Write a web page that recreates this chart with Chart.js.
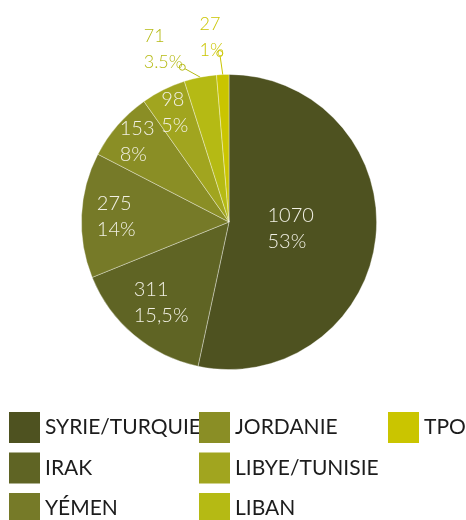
<!DOCTYPE html>
<html lang="fr">
<head>
<meta charset="utf-8">
<title>Répartition par pays</title>
<script src="https://cdn.jsdelivr.net/npm/chart.js@4.4.0/dist/chart.umd.min.js"></script>
<style>
  html, body { margin: 0; padding: 0; background: #fff; }
  #wrap { width: 466px; height: 520px; position: relative; overflow: hidden; }
</style>
</head>
<body>
<div id="wrap"><canvas id="pie" width="466" height="520"></canvas></div>
<script>
/* ---- Data ---- */
const categories = ["SYRIE/TURQUIE", "IRAK", "YÉMEN", "JORDANIE", "LIBYE/TUNISIE", "LIBAN", "TPO"];
const values = [1070, 311, 275, 153, 98, 71, 27];
const shareLabels = ["53%", "15,5%", "14%", "8%", "5%", "3.5%", "1%"];
const sliceColors = ["#4e5220", "#5f6424", "#767a28", "#8a8e25", "#a1a51f", "#b5ba14", "#cac500"];

const FONT = "'Lato', 'Open Sans', sans-serif";

/* ---- Placement of value labels (radius fraction inside, or offsets from rim outside) ---- */
const labelPlacement = [
    { r: 0.42 },
    { r: 0.715 },
    { r: 0.765 },
    { r: 0.826 },
    { r: 0.825 },
    { dot: [-18, -10], text: [-37, -28.5] },
    { dot: [-3, -21], text: [-11, -37.5] }
];

const sliceLabels = {
    id: "sliceLabels",
    afterDatasetsDraw(chart) {
        const ctx = chart.ctx;
        const meta = chart.getDatasetMeta(0);
        meta.data.forEach((arc, i) => {
            const p = arc.getProps(["x", "y", "startAngle", "endAngle", "outerRadius"], true);
            const mid = (p.startAngle + p.endAngle) / 2;
            const place = labelPlacement[i];
            const lines = [String(chart.data.datasets[0].data[i]), shareLabels[i]];
            let cx, cy, gap, color;

            ctx.save();
            if (place.r !== undefined) {
                cx = p.x + Math.cos(mid) * p.outerRadius * place.r;
                cy = p.y + Math.sin(mid) * p.outerRadius * place.r;
                gap = 26;
                color = "#f1f0e4";
                ctx.font = "300 20px " + FONT;
            } else {
                const ex = p.x + Math.cos(mid) * p.outerRadius;
                const ey = p.y + Math.sin(mid) * p.outerRadius;
                const dx = ex + place.dot[0], dy = ey + place.dot[1];
                color = sliceColors[i];
                // leader line + small ring
                const len = Math.hypot(ex - dx, ey - dy);
                ctx.strokeStyle = color;
                ctx.lineWidth = 1;
                ctx.beginPath();
                ctx.moveTo(dx + (ex - dx) / len * 3, dy + (ey - dy) / len * 3);
                ctx.lineTo(ex, ey);
                ctx.stroke();
                ctx.beginPath();
                ctx.arc(dx, dy, 3, 0, Math.PI * 2);
                ctx.fillStyle = "#fff";
                ctx.fill();
                ctx.stroke();
                cx = ex + place.text[0];
                cy = ey + place.text[1];
                gap = 26;
                ctx.font = "300 18px " + FONT;
            }
            const w = Math.max(...lines.map(t => ctx.measureText(t).width));
            ctx.fillStyle = color;
            ctx.textAlign = "left";
            ctx.textBaseline = "middle";
            ctx.fillText(lines[0], cx - w / 2, cy - gap / 2);
            ctx.fillText(lines[1], cx - w / 2, cy + gap / 2);
            ctx.restore();
        });
    }
};

/* ---- Legend, three columns filled top to bottom ---- */
const columnLegend = {
    id: "columnLegend",
    afterDraw(chart) {
        const ctx = chart.ctx;
        const colX = [9, 199, 388];
        const rowY = 412;
        const rowStep = 40.5;
        const box = 31;
        ctx.save();
        ctx.font = "400 21px " + FONT;
        ctx.textBaseline = "middle";
        ctx.textAlign = "left";
        chart.data.labels.forEach((label, i) => {
            const col = Math.floor(i / 3);
            const row = i % 3;
            const x = colX[col];
            const y = rowY + row * rowStep;
            ctx.fillStyle = sliceColors[i];
            ctx.fillRect(x, y, box, box);
            ctx.fillStyle = "#1c1c1c";
            ctx.fillText(label, x + box + 5, y + box / 2);
        });
        ctx.restore();
    }
};

new Chart(document.getElementById("pie"), {
    type: "pie",
    data: {
        labels: categories,
        datasets: [{
            data: values,
            backgroundColor: sliceColors,
            borderColor: "rgba(255,255,255,0.45)",
            borderWidth: 0.8
        }]
    },
    options: {
        responsive: false,
        animation: false,
        layout: { padding: { top: 74, bottom: 150, left: 81, right: 89 } },
        plugins: {
            legend: { display: false },
            tooltip: { enabled: false }
        }
    },
    plugins: [sliceLabels, columnLegend]
});
</script>
</body>
</html>
